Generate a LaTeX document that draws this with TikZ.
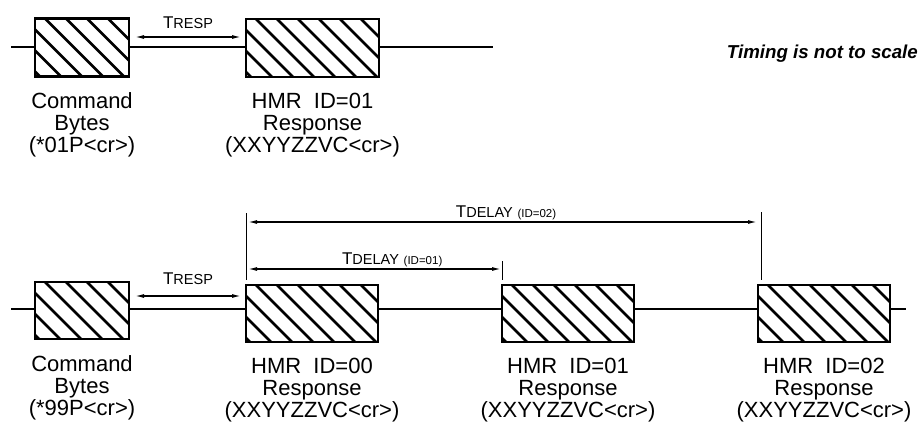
\documentclass[tikz,border=0pt]{standalone}
\usepackage{fontspec}
\setmainfont{Liberation Sans}
\usetikzlibrary{positioning,arrows.meta}
\newcommand\tsmall[1]{{\fontsize{14.5}{14.5}\selectfont #1}}
\newcommand\tid[1]{{\fontsize{11.5}{11.5}\selectfont #1}}
\begin{document}
\begin{tikzpicture}[x=1pt,y=-1pt,
  hatchbox/.style={draw,line width=2.4pt,inner sep=0pt,minimum width=#1,minimum height=58pt,
    path picture={\foreach \k in {-4,...,7}
      \draw[line width=2.6pt] ([xshift=\k*21pt+10pt]path picture bounding box.north west) -- ++(90,90);}},
  caption/.style={inner sep=0pt,align=center,font=\fontsize{22}{22}\selectfont},
  wire/.style={line width=2pt},
  dim/.style={{Latex[length=9pt,width=4pt]}-{Latex[length=9pt,width=4pt]},line width=1.3pt},
  tick/.style={line width=1pt},
  dimlabel/.style={font=\fontsize{17}{17}\selectfont,inner sep=0pt}]
\path[use as bounding box] (0,0) rectangle (923,423);
% single poll
\node[hatchbox=94pt] (cmdA) at (82,47.5) {};
\node[hatchbox=133pt] (rspA) at (312.5,48) {};
\coordinate (a0) at (11,47);
\coordinate (a1) at (493,47);
\draw[wire] (a0) -- (a0 -| cmdA.west) (cmdA.east |- a0) -- (rspA.west |- a0) (rspA.east |- a0) -- (a1);
\coordinate (ra0) at (135,37);
\coordinate (ra1) at (241,37);
\draw[dim] (ra0) -- node[dimlabel,above=8pt] {T\tsmall{RESP}} (ra1);
\node[caption,below=15pt of cmdA] (cmdAtext) {Command\\Bytes\\(*01P<cr>)};
\node[caption,below=15pt of rspA] (rspAtext) {HMR~~ID=01\\Response\\(XXYYZZVC<cr>)};
\node[anchor=base east,inner sep=0pt,font=\fontsize{18.7}{18.7}\selectfont\bfseries\itshape] (note) at (918,58.5) {Timing is not to scale};
% broadcast poll
\node[hatchbox=94pt,minimum height=57pt] (cmdB) at (82,310.5) {};
\node[hatchbox=132pt,minimum height=57pt] (rsp0) at (312,313.5) {};
\node[hatchbox=132pt,minimum height=57pt] (rsp1) at (568,313.5) {};
\node[hatchbox=132pt,minimum height=57pt] (rsp2) at (824,313.5) {};
\coordinate (b0) at (11,309);
\coordinate (b1) at (906,309);
\draw[wire] (b0) -- (b0 -| cmdB.west) (cmdB.east |- b0) -- (rsp0.west |- b0)
  (rsp0.east |- b0) -- (rsp1.west |- b0) (rsp1.east |- b0) -- (rsp2.west |- b0)
  (rsp2.east |- b0) -- (b1);
\coordinate (rb0) at (135,296);
\coordinate (rb1) at (241,296);
\draw[dim] (rb0) -- node[dimlabel,above=11pt] {T\tsmall{RESP}} (rb1);
% delay ticks
\coordinate (t0top) at (246,213);
\coordinate (t0bot) at (246,280);
\coordinate (t1top) at (502,261);
\coordinate (t1bot) at (502,280);
\coordinate (t2top) at (761,212);
\coordinate (t2bot) at (761,280);
\draw[tick] (t0top) -- (t0bot) (t1top) -- (t1bot) (t2top) -- (t2bot);
\coordinate (d1a) at (248,269);
\coordinate (d1b) at (501,269);
\coordinate (d2a) at (248,222);
\coordinate (d2b) at (757,222);
\draw[dim] (d1a) -- node[dimlabel,above=1pt,pos=.57] {T\tsmall{DELAY} \tid{(ID=01)}} (d1b);
\draw[dim] (d2a) -- node[dimlabel,above=1pt,pos=.507] {T\tsmall{DELAY} \tid{(ID=02)}} (d2b);
\node[caption,below=15pt of cmdB] (cmdBtext) {Command\\Bytes\\(*99P<cr>)};
\node[caption,below=15pt of rsp0] (rsp0text) {HMR~~ID=00\\Response\\(XXYYZZVC<cr>)};
\node[caption,below=15pt of rsp1] (rsp1text) {HMR~~ID=01\\Response\\(XXYYZZVC<cr>)};
\node[caption,below=15pt of rsp2] (rsp2text) {HMR~~ID=02\\Response\\(XXYYZZVC<cr>)};
\end{tikzpicture}
\end{document}
